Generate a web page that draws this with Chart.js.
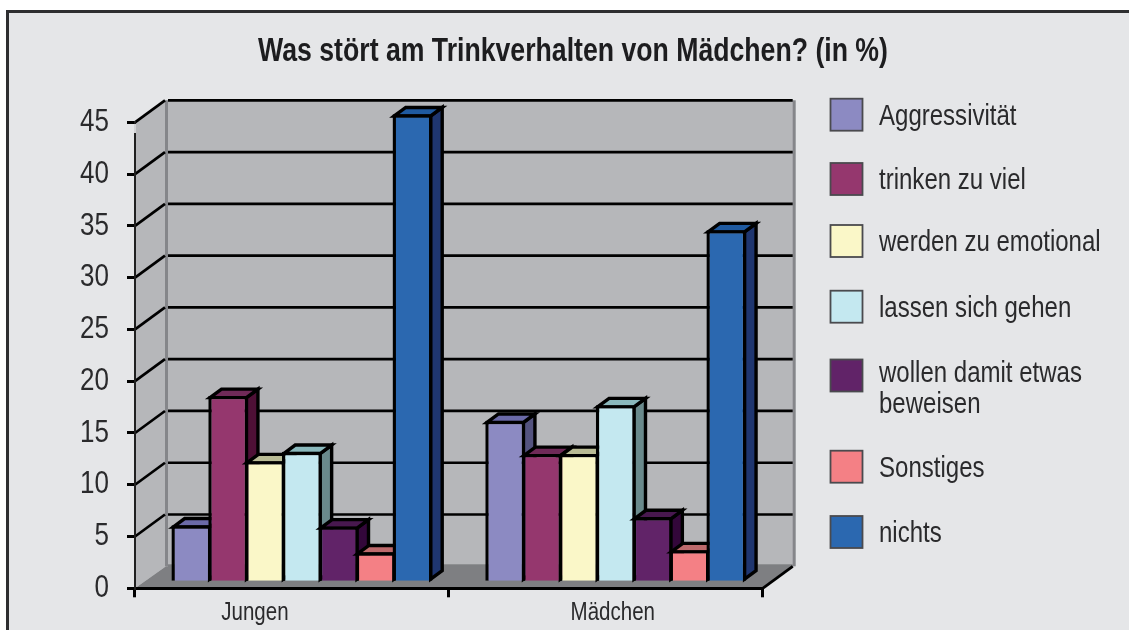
<!DOCTYPE html>
<html><head><meta charset="utf-8">
<style>html,body{margin:0;padding:0;background:#fff}canvas{display:block}</style>
<script src="https://cdn.jsdelivr.net/npm/chart.js@4"></script></head>
<body><div style="width:1129px;height:630px"><canvas id="c" width="1129" height="630"></canvas></div>
<script>
const categories = ['Jungen', 'Mädchen'];
const titleText = 'Was stört am Trinkverhalten von Mädchen? (in %)';
const seriesNames = ['Aggressivität', 'trinken zu viel', 'werden zu emotional', 'lassen sich gehen', 'wollen damit etwas beweisen', 'Sonstiges', 'nichts'];
const aggressivitaet = [5.5, 15.6];
const trinkenZuViel = [18, 12.4];
const werdenZuEmotional = [11.7, 12.4];
const lassenSichGehen = [12.6, 17.1];
const wollenBeweisen = [5.4, 6.3];
const sonstiges = [2.9, 3.1];
const nichts = [45.2, 34];
const seriesValues = [aggressivitaet, trinkenZuViel, werdenZuEmotional, lassenSichGehen, wollenBeweisen, sonstiges, nichts];

const frontColors = ['#8c8ac2', '#95376e', '#faf7c8', '#c4e8f0', '#612368', '#f48085', '#2b68b0'];
const sideColors = ['#54537f', '#4e1036', '#8f8e72', '#6a8a8c', '#33073a', '#9c5054', '#1f3670'];
const topColors = ['#6b6aa8', '#6f2a58', '#b9bb95', '#8ab8bc', '#48184f', '#bd6a6c', '#1f5aa0'];

const FONT = '"Liberation Sans", sans-serif';
const TEXT_SQUEEZE = 0.82;
const TEXT = '#2a2a2c';
const WALL = {dx: 31, dy: 22, wall: '#b6b7ba', floor: '#7e7f82', edge: '#85868a'};
const BAR3D = {shiftX: 10, shiftY: 6, dx: 11.5, dy: 8.5, line: 3.4};
const LEGEND = {x: 830.5, size: 32, textX: 879, swatchY: [114.7, 179, 241, 306.7, 375.5, 466.7, 532], textY: [116.5, 181, 243, 308.5, 389, 468.5, 534], lineH: 31, maxW: 225};
const xLabelShift = [-37, 7];

const scene3d = {
  id: 'scene3d',
  beforeInit(chart) {
    // the original type is a condensed face: squeeze real text about its anchor
    const ctx = chart.ctx, fill = ctx.fillText.bind(ctx);
    ctx.fillText = (s, x, y, m) => {
      ctx.save(); ctx.translate(x, y); ctx.scale(TEXT_SQUEEZE, 1);
      fill(s, 0, 0, m); ctx.restore();
    };
  },
  beforeDraw(chart) {
    const {ctx, scales: {x, y}} = chart;
    ctx.save();
    ctx.fillStyle = '#ffffff'; ctx.fillRect(0, 0, 1129, 630);
    ctx.fillStyle = '#e5e6e8'; ctx.fillRect(7, 11, 1122, 619);
    ctx.fillStyle = '#2e2e30'; ctx.fillRect(6, 10, 1123, 3); ctx.fillRect(6, 10, 3, 620);

    const l = x.left, r = x.right, b = y.getPixelForValue(0), t = y.getPixelForValue(45);
    const {dx, dy} = WALL;
    ctx.fillStyle = WALL.wall;
    ctx.fillRect(l + dx, t - dy, r - l, b - t);
    ctx.beginPath(); ctx.moveTo(l, t); ctx.lineTo(l + dx, t - dy); ctx.lineTo(l + dx, b - dy); ctx.lineTo(l, b); ctx.closePath(); ctx.fill();
    ctx.fillStyle = WALL.edge;
    ctx.fillRect(l + dx - 1, t - dy, 3, b - t);
    ctx.fillRect(r + dx - 1, t - dy, 3, b - t);
    ctx.fillStyle = WALL.floor;
    ctx.fillRect(l + dx + 2, b - dy - 2, r - l - 3, 3);
    ctx.beginPath(); ctx.moveTo(l, b); ctx.lineTo(l + dx, b - dy); ctx.lineTo(r + dx, b - dy); ctx.lineTo(r, b); ctx.closePath(); ctx.fill();

    ctx.strokeStyle = '#000'; ctx.lineWidth = 2.7;
    y.ticks.forEach(tk => {
      if (tk.value === 0) return;
      const p = y.getPixelForValue(tk.value);
      ctx.beginPath(); ctx.moveTo(l, p); ctx.lineTo(l + dx - 1, p - dy); ctx.stroke();
      ctx.beginPath(); ctx.moveTo(l + dx + 2, p - dy); ctx.lineTo(r + dx - 1, p - dy); ctx.stroke();
    });
    ctx.lineWidth = 2.8;
    ctx.beginPath(); ctx.moveTo(r, b); ctx.lineTo(r + dx - 1, b - dy); ctx.stroke();
    ctx.restore();

    const items = x.getLabelItems();
    if (!items._shifted) {
      items.forEach((it, i) => { it.options.translation[0] += xLabelShift[i]; });
      items._shifted = true;
    }
  },
  beforeDatasetDraw() { return false; },
  afterDatasetsDraw(chart) {
    const {ctx} = chart;
    // pale top stub of the vertical axis
    ctx.fillStyle = '#d2d3d5'; ctx.fillRect(134, 124, 2, 9);

    ctx.save();
    ctx.translate(BAR3D.shiftX, -BAR3D.shiftY);
    chart.data.datasets.forEach((ds, i) => {
      chart.getDatasetMeta(i).data.forEach(el => {
        const {x, y, base, width} = el.getProps(['x', 'y', 'base', 'width'], true);
        const h = BAR3D.line / 2;
        const L = x - width / 2 + h, R = x + width / 2 - h, T = y + h, B = base - h;
        const {dx, dy} = BAR3D;
        ctx.lineWidth = BAR3D.line; ctx.strokeStyle = '#000'; ctx.lineJoin = 'miter';
        ctx.fillStyle = sideColors[i];
        ctx.beginPath(); ctx.moveTo(R, T); ctx.lineTo(R + dx, T - dy); ctx.lineTo(R + dx, B - dy); ctx.lineTo(R, B); ctx.closePath(); ctx.fill(); ctx.stroke();
        ctx.fillStyle = topColors[i];
        ctx.beginPath(); ctx.moveTo(L, T); ctx.lineTo(L + dx, T - dy); ctx.lineTo(R + dx, T - dy); ctx.lineTo(R, T); ctx.closePath(); ctx.fill(); ctx.stroke();
        el.draw(ctx);
      });
    });
    ctx.restore();

    ctx.save();
    ctx.font = '29.3px ' + FONT;
    ctx.textBaseline = 'middle'; ctx.textAlign = 'left';
    chart.data.datasets.forEach((ds, i) => {
      const c = LEGEND.swatchY[i];
      ctx.fillStyle = ds.backgroundColor;
      ctx.fillRect(LEGEND.x, c - LEGEND.size / 2, LEGEND.size, LEGEND.size);
      ctx.strokeStyle = '#4a4a4e'; ctx.lineWidth = 1.8;
      ctx.strokeRect(LEGEND.x, c - LEGEND.size / 2, LEGEND.size, LEGEND.size);
      const lines = []; let cur = '';
      ds.label.split(' ').forEach(w => {
        const t = cur ? cur + ' ' + w : w;
        if (ctx.measureText(t).width * TEXT_SQUEEZE > LEGEND.maxW && cur) { lines.push(cur); cur = w; } else cur = t;
      });
      lines.push(cur);
      ctx.fillStyle = TEXT;
      lines.forEach((ln, k) => ctx.fillText(ln, LEGEND.textX, LEGEND.textY[i] + (k - (lines.length - 1) / 2) * LEGEND.lineH));
    });
    ctx.restore();
  }
};

new Chart(document.getElementById('c'), {
  type: 'bar',
  data: {
    labels: categories,
    datasets: seriesNames.map((name, i) => ({
      label: name,
      data: seriesValues[i],
      backgroundColor: frontColors[i],
      borderColor: '#000',
      borderWidth: BAR3D.line,
      categoryPercentage: 0.822,
      barPercentage: 1.081
    }))
  },
  plugins: [scene3d],
  options: {
    responsive: false,
    animation: false,
    layout: {padding: {left: 17, right: 0, top: 0, bottom: 0}},
    plugins: {
      legend: {display: false},
      tooltip: {enabled: false},
      title: {
        display: true, text: titleText, color: '#1d1d1f',
        font: {family: FONT, size: 32.5, weight: 'bold', lineHeight: 1.2},
        padding: {top: 33, bottom: 50.3}
      }
    },
    scales: {
      x: {
        type: 'category',
        grid: {offset: true, drawOnChartArea: false, color: '#000', lineWidth: 3, tickLength: 9},
        border: {color: '#000', width: 3},
        ticks: {color: TEXT, font: {family: FONT, size: 25}, padding: 1, maxRotation: 0},
        afterFit(s) { s.height = 41.7; }
      },
      y: {
        min: 0, max: 45,
        grid: {drawOnChartArea: false, color: '#000', lineWidth: 3, tickLength: 8},
        border: {color: '#1f1f1f', width: 2},
        ticks: {stepSize: 5, color: TEXT, font: {family: FONT, size: 31.7}, padding: 18},
        afterFit(s) { s.width = 118; }
      },
      spacer: {
        position: 'right', display: true,
        grid: {display: false}, border: {display: false}, ticks: {display: false},
        afterFit(s) { s.width = 366.3; }
      }
    }
  }
});
</script></body></html>
